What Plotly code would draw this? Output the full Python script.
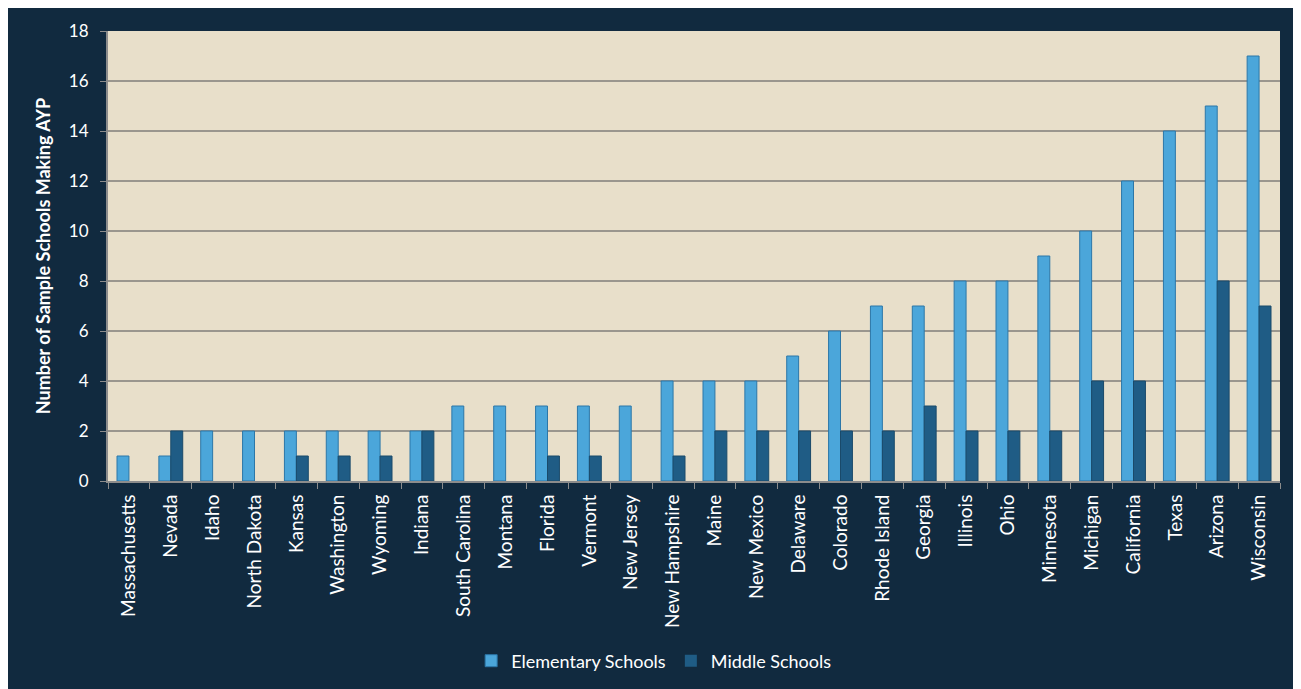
import plotly.graph_objects as go

states = ["Massachusetts", "Nevada", "Idaho", "North Dakota", "Kansas", "Washington",
          "Wyoming", "Indiana", "South Carolina", "Montana", "Florida", "Vermont",
          "New Jersey", "New Hampshire", "Maine", "New Mexico", "Delaware", "Colorado",
          "Rhode Island", "Georgia", "Illinois", "Ohio", "Minnesota", "Michigan",
          "California", "Texas", "Arizona", "Wisconsin"]
elementary = [1, 1, 2, 2, 2, 2, 2, 2, 3, 3, 3, 3, 3, 4, 4, 4, 5, 6, 7, 7, 8, 8, 9, 10, 12, 14, 15, 17]
middle = [0, 2, 0, 0, 1, 1, 1, 2, 0, 0, 1, 1, 0, 1, 2, 2, 2, 2, 2, 3, 2, 2, 2, 4, 4, 0, 8, 7]
y_ticks = [0, 2, 4, 6, 8, 10, 12, 14, 16, 18]

FONT = "Lato"
DARK = "#112A3F"


def outline_widths(values):
    return [1 if v > 0 else 0 for v in values]


fig = go.Figure()
fig.add_trace(go.Bar(x=states, y=elementary, name="Elementary Schools",
                     marker=dict(color="#4BA6DA",
                                 line=dict(color="#2C77A8", width=outline_widths(elementary)))))
fig.add_trace(go.Bar(x=states, y=middle, name="Middle Schools",
                     marker=dict(color="#1F5C85",
                                 line=dict(color="#1A4A6A", width=outline_widths(middle)))))

fig.update_layout(
    width=1301, height=689,
    margin=dict(l=100, r=29, t=19, b=216),
    paper_bgcolor=DARK,
    plot_bgcolor="#E8DFCA",
    barmode="group",
    bargap=0.43,
    bargroupgap=0,
    font=dict(family=FONT, color="white", size=16),
    showlegend=True,
    legend=dict(orientation="h", x=0.466, xanchor="center", y=-0.40, yanchor="middle",
                font=dict(size=18, color="white"), bgcolor="rgba(0,0,0,0)",
                itemwidth=30, traceorder="normal"),
    xaxis=dict(tickangle=-90, tickson="boundaries", ticks="outside", ticklen=6,
               tickcolor="#8C8C8C", showline=True, linecolor="#8C8C8C", linewidth=2,
               tickfont=dict(size=19, color="white", family=FONT), showgrid=False,
               ticklabelstandoff=4,
               range=[-0.5, len(states) - 0.5]),
    yaxis=dict(range=[0, 18], tickvals=y_ticks, ticks="outside", ticklen=6,
               tickcolor="#8C8C8C", showline=True, linecolor="#8C8C8C", linewidth=2,
               gridcolor="#9A968E", gridwidth=1.5, zeroline=False,
               ticklabelstandoff=8,
               tickfont=dict(size=17, color="white", family=FONT),
               title=dict(text="<b>Number of Sample Schools Making AYP</b>",
                          font=dict(size=18, color="white", family=FONT), standoff=14)),
)

fig.write_html("out.html")
